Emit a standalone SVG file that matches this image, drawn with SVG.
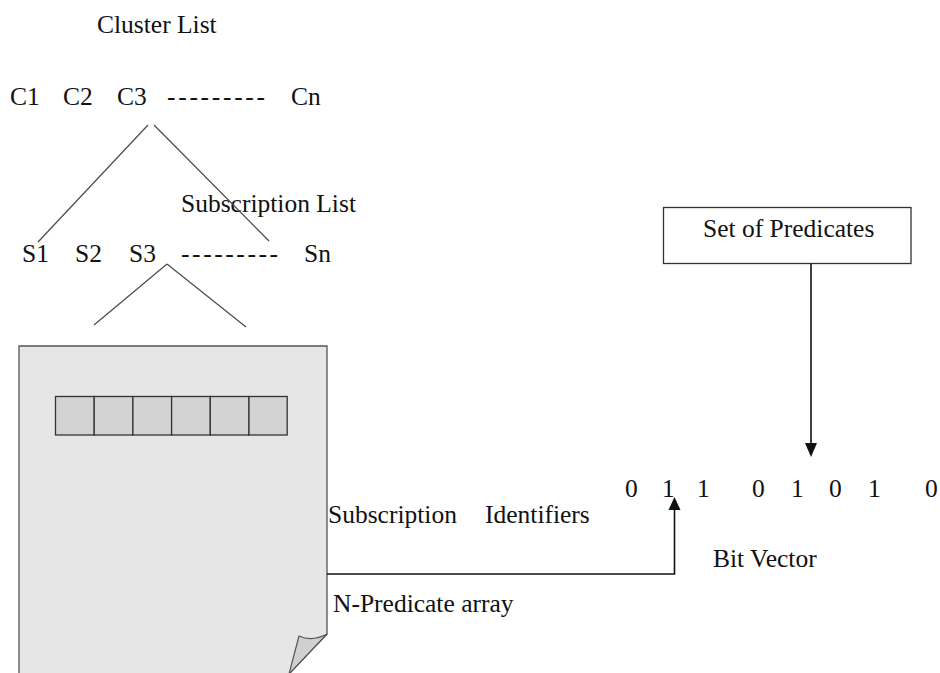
<svg xmlns="http://www.w3.org/2000/svg" width="940" height="673" viewBox="0 0 940 673">
  <defs>
    <style>
      text { font-family: "Liberation Serif", "Times New Roman", serif; font-size: 25.5px; fill: #111; }
      .tree { stroke: #4a4a4a; stroke-width: 1.2; fill: none; }
      .edge { stroke: #111; stroke-width: 1.6; fill: none; }
      .cell { fill: #d3d3d3; stroke: #333; stroke-width: 1.3; }
    </style>
    <marker id="arrow" viewBox="0 0 12 14" refX="6" refY="14" markerWidth="12" markerHeight="14" markerUnits="userSpaceOnUse" orient="auto-start-reverse">
      <path d="M0,0 L12,0 L6,14 Z" fill="#111"/>
    </marker>
  </defs>

  <rect width="940" height="673" fill="#ffffff"/>

  <!-- cluster list -->
  <g id="cluster-list">
    <text x="97" y="33">Cluster List</text>
    <text x="10" y="105">C1</text>
    <text x="63" y="105">C2</text>
    <text x="117" y="105">C3</text>
    <text x="167" y="105" textLength="98" lengthAdjust="spacing">---------</text>
    <text x="291" y="105">Cn</text>
  </g>

  <!-- subscription list -->
  <g id="subscription-list">
    <text x="181" y="212">Subscription List</text>
    <text x="22" y="262">S1</text>
    <text x="75" y="262">S2</text>
    <text x="129" y="262">S3</text>
    <text x="181" y="262" textLength="97" lengthAdjust="spacing">---------</text>
    <text x="304" y="262">Sn</text>
  </g>

  <!-- predicate array page -->
  <g id="predicate-array">
    <path d="M19,346 H327 V634 L289,674 H19 Z" fill="#e6e6e6" stroke="#555" stroke-width="1.3"/>
    <path d="M327,634 Q312,642 299,636 L289,674 Z" fill="#d0d0d0" stroke="#555" stroke-width="1.2" stroke-linejoin="round"/>
    <rect class="cell" x="55.5" y="396.5" width="38.7" height="38.5"/>
    <rect class="cell" x="94.2" y="396.5" width="38.7" height="38.5"/>
    <rect class="cell" x="132.9" y="396.5" width="38.7" height="38.5"/>
    <rect class="cell" x="171.6" y="396.5" width="38.7" height="38.5"/>
    <rect class="cell" x="210.3" y="396.5" width="38.7" height="38.5"/>
    <rect class="cell" x="249" y="396.5" width="38.2" height="38.5"/>
  </g>

  <g id="labels">
    <text x="328" y="523">Subscription</text>
    <text x="485" y="523">Identifiers</text>
    <text x="333" y="612">N-Predicate array</text>
  </g>

  <!-- set of predicates -->
  <g id="set-of-predicates">
    <rect x="663.5" y="207.5" width="247.5" height="56" fill="#ffffff" stroke="#333" stroke-width="1.3"/>
    <text x="703" y="237">Set of Predicates</text>
  </g>

  <!-- bit vector -->
  <g id="bit-vector">
    <text x="625" y="497">0</text>
    <text x="662" y="497">1</text>
    <text x="697" y="497">1</text>
    <text x="752" y="497">0</text>
    <text x="791" y="497">1</text>
    <text x="829" y="497">0</text>
    <text x="868" y="497">1</text>
    <text x="925" y="497">0</text>
    <text x="713" y="567">Bit Vector</text>
  </g>

  <!-- connectors -->
  <g id="connectors">
    <line class="tree" x1="148" y1="125" x2="38" y2="242"/>
    <line class="tree" x1="154" y1="125" x2="269" y2="241"/>
    <line class="tree" x1="167" y1="264" x2="94" y2="325"/>
    <line class="tree" x1="167" y1="264" x2="246" y2="327"/>
    <path class="edge" d="M811,263.5 V443" />
    <path d="M805,443 H817 L811,457 Z" fill="#111"/>
    <path class="edge" d="M327,574 H674.5 V510"/>
    <path d="M668.5,510 H680.5 L674.5,497 Z" fill="#111"/>
  </g>
</svg>
